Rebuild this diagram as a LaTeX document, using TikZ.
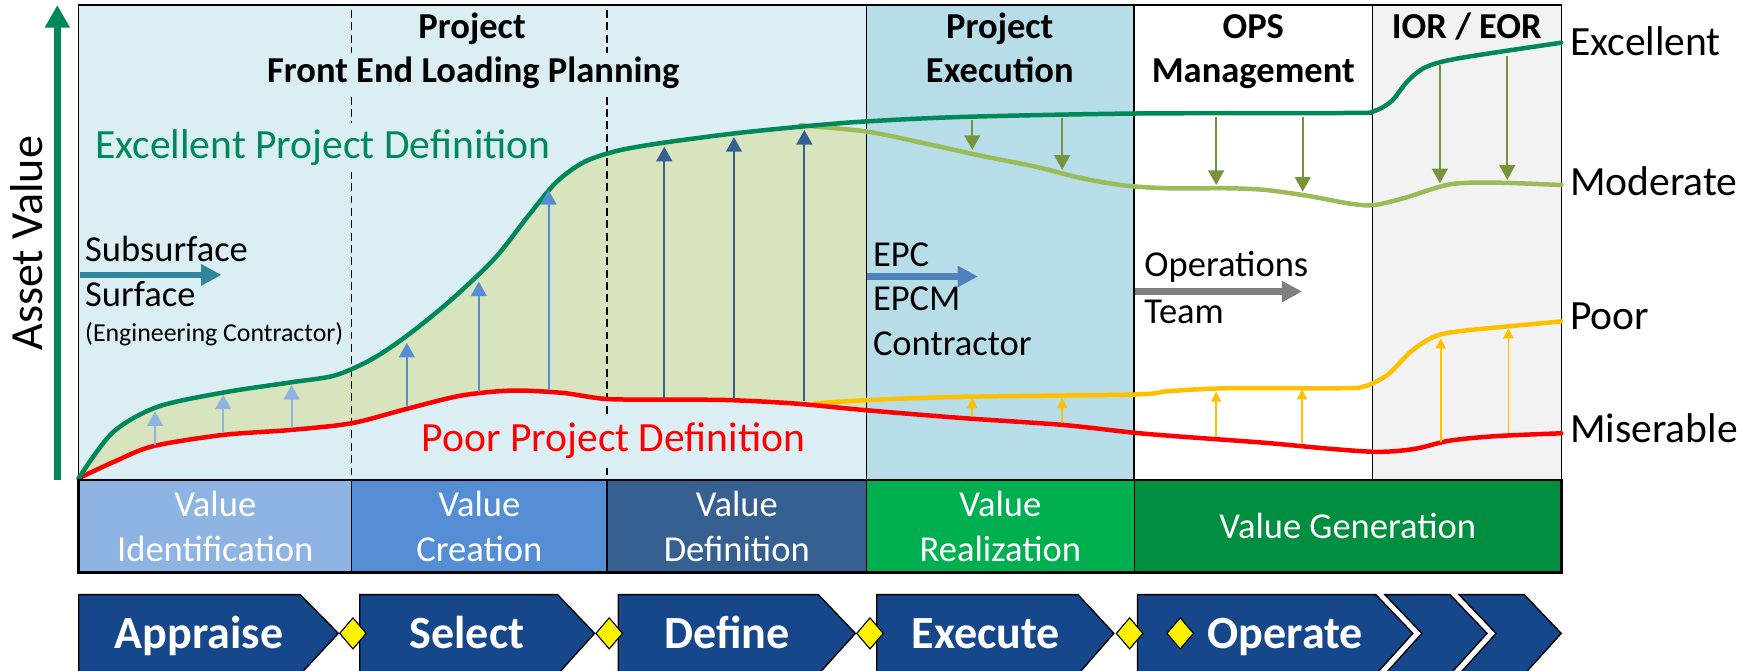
\documentclass[tikz,border=0pt]{standalone}
\usepackage{fontspec}
\setmainfont{Carlito}
\usetikzlibrary{arrows.meta,shapes.geometric}
\definecolor{skyback}{HTML}{DAEEF3}
\definecolor{execback}{HTML}{B7DEE8}
\definecolor{iorback}{HTML}{F2F2F2}
\definecolor{felfill}{HTML}{D7E4BD}
\definecolor{topgreen}{HTML}{00875A}
\definecolor{midgreen}{HTML}{9BBB59}
\definecolor{olive}{HTML}{77933C}
\definecolor{amber}{HTML}{FFC000}
\definecolor{identblue}{HTML}{8EB4E3}
\definecolor{createblue}{HTML}{558ED5}
\definecolor{defineblue}{HTML}{376092}
\definecolor{realgreen}{HTML}{00B050}
\definecolor{gengreen}{HTML}{008E40}
\definecolor{stageblue}{HTML}{17478B}
\definecolor{subteal}{HTML}{31859C}
\definecolor{epcblue}{HTML}{4F81BD}
\definecolor{opsgrey}{HTML}{7F7F7F}

\begin{document}
\begin{tikzpicture}[x=1pt, y=-1pt,
  bigtxt/.style={font=\fontsize{37}{44}\selectfont},
  midtxt/.style={font=\fontsize{32.5}{40}\selectfont},
  hdr/.style={font=\bfseries\fontsize{32.5}{39}\selectfont, anchor=base},
  lbl/.style={inner sep=0pt, anchor=base west},
  cover/.style={fill=skyback, inner sep=6pt},
  trend/.style={line width=4pt, line cap=round},
  lift/.style={line width=1.8pt, -{Triangle[length=13pt,width=14pt]}},
  nudge/.style={line width=1.5pt, -{Triangle[length=9pt,width=9pt]}},
  handover/.style={line width=6pt, -{Triangle[length=18pt,width=18pt]}},
  vbox/.style={draw, line width=1pt, minimum height=82pt, inner sep=0pt, outer sep=0pt,
    text=white, align=center, font=\fontsize{32.5}{40}\selectfont},
  stage/.style={draw, line width=1.2pt, fill=stageblue},
  stagetxt/.style={text=white, font=\bfseries\fontsize{41}{48}\selectfont, anchor=base},
  gem/.style={diamond, draw, line width=1pt, fill=yellow, inner sep=0pt,
    minimum width=24pt, minimum height=28pt},
]
\useasboundingbox (0,0) rectangle (1560.5,596.1);

% phase backgrounds
\fill[skyback] (70,4.5) rectangle (771,427);
\fill[execback] (771,4.5) rectangle (1009,427);
\fill[iorback] (1221,4.5) rectangle (1389,427);

% gap between the two definitions
\begin{scope}
\clip (70,0) rectangle (771,430);
\fill[felfill] plot[smooth] coordinates {(70,425.5) (100,385) (140,362) (200,349) (260,340) (298,334) (330,320) (361,299.5) (400,268) (440,230) (470,192) (495,162) (520,144) (550,134) (590,127) (655,118.5) (715,111.5) (771,117) (820,127)}
  -- plot[smooth] coordinates {(820,369) (771,365) (707,359) (650,356) (600,355.5) (540,355) (500,349.5) (455,347.5) (410,352) (361,364) (313,376.5) (259,382.5) (198,387) (136,397) (102,410.6) (70,425.5)} -- cycle;
\end{scope}

\draw[line width=1.2pt, dash pattern=on 7pt off 4pt] (313,9) -- (313,427);
\draw[line width=1.2pt, dash pattern=on 7pt off 4pt] (540,9) -- (540,427);

% headers
\node[hdr] (felA) at (420,34) {Project};
\node[hdr, fill=skyback] (felB) at (421,73) {Front End Loading Planning};
\node[hdr] (execA) at (889.5,34) {Project};
\node[hdr] (execB) at (889.5,73) {Execution};
\node[hdr] (opsA) at (1115,34) {OPS};
\node[hdr] (opsB) at (1115,73) {Management};
\node[hdr] (iorA) at (1305,34) {IOR / EOR};

\node[bigtxt, cover, anchor=base west, text=topgreen] (goodDef) at (78.5,141) {Excellent Project Definition};
\node[bigtxt, cover, anchor=base west, text=red] (poorDef) at (369,402) {Poor Project Definition};

\draw[line width=1.2pt] (771,4.5) -- (771,427);
\draw[line width=1.2pt] (1009,4.5) -- (1009,427);
\draw[line width=1.2pt] (1221,4.5) -- (1221,427);
\draw[line width=1.3pt] (70,4.5) rectangle (1389,427);

% value curves
\draw[trend, midgreen] plot[smooth] coordinates {(712,111.5) (771,117) (820,127) (870,138) (920,148) (960,158) (1000,165) (1040,167.5) (1092,167.5) (1126,169) (1165,174.5) (1200,181) (1222,182.5) (1250,176) (1290,164) (1331,162.5) (1389,164.6)};
\draw[trend, amber] plot[smooth] coordinates {(725,359) (771,356) (857,353) (1009,351) (1040,348) (1092,345.4) (1194,345.4) (1215,343.5) (1235,333) (1255,313) (1275,300) (1300,294.5) (1389,286)};
\draw[trend, red] plot[smooth] coordinates {(70,425.5) (102,410.6) (136,397) (198,387) (259,382.5) (313,376.5) (361,364) (410,352) (455,347.5) (500,349.5) (540,355) (600,355.5) (650,356) (707,359) (771,365) (857,372) (945,378) (1009,385) (1050,388.4) (1126,394) (1180,399) (1225,402) (1258,399.5) (1290,392) (1331,388) (1389,385.5)};
\draw[trend, topgreen] plot[smooth] coordinates {(70,425.5) (100,385) (140,362) (200,349) (260,340) (298,334) (330,320) (361,299.5) (400,268) (440,230) (470,192) (495,162) (520,144) (550,134) (590,127) (655,118.5) (720,112) (771,108) (857,104) (1009,101) (1200,100.5) (1222,99) (1238,90) (1252,72.5) (1268,60) (1297,52) (1389,38)};

% lifts and drops
\foreach \n/\x/\a/\b in {1/138/396/366, 2/198.6/385.5/351, 3/259.5/379.5/342.5}
  {\coordinate (idlo\n) at (\x,\a); \coordinate (idhi\n) at (\x,\b);
   \draw[lift, identblue] (idlo\n) -- (idhi\n);}
\foreach \n/\x/\a/\b in {1/362/362/305, 2/426/349/250.5, 3/488/347/169}
  {\coordinate (crlo\n) at (\x,\a); \coordinate (crhi\n) at (\x,\b);
   \draw[lift, createblue] (crlo\n) -- (crhi\n);}
\foreach \n/\x/\a/\b in {1/591/354/130.5, 2/653/355/122, 3/715.6/357/115.6}
  {\coordinate (dflo\n) at (\x,\a); \coordinate (dfhi\n) at (\x,\b);
   \draw[lift, defineblue] (dflo\n) -- (dfhi\n);}
\foreach \n/\x/\a/\b in {1/865/107/133.4, 2/945/105/151, 3/1082/104.4/164.6, 4/1159/104.4/170.5, 5/1281/57.8/163, 6/1341/49.8/160}
  {\coordinate (dphi\n) at (\x,\a); \coordinate (dplo\n) at (\x,\b);
   \draw[lift, olive] (dphi\n) -- (dplo\n);}
\foreach \n/\x/\a/\b in {1/865/370.6/354, 2/945/376.5/354, 3/1082/388.4/348.4, 4/1158.4/394/346.3, 5/1281.8/393/301, 6/1342/385.5/292}
  {\coordinate (uplo\n) at (\x,\a); \coordinate (uphi\n) at (\x,\b);
   \draw[nudge, amber] (uplo\n) -- (uphi\n);}

% who carries the asset
\coordinate (subA) at (71,244.6);
\coordinate (subB) at (197,244.6);
\draw[handover, subteal] (subA) -- (subB);
\node[midtxt, lbl] (subsurf) at (75.6,233) {Subsurface};
\node[midtxt, lbl] (surf) at (75.6,273) {Surface};
\node[lbl, font=\fontsize{23}{28}\selectfont] (engcon) at (75.6,304) {(Engineering Contractor)};

\coordinate (epcA) at (771,246);
\coordinate (epcB) at (870,246);
\draw[handover, epcblue] (epcA) -- (epcB);
\node[midtxt, lbl] (epc) at (776.5,237) {EPC};
\node[midtxt, lbl] (epcm) at (776.5,276) {EPCM};
\node[midtxt, lbl] (contr) at (776.5,316) {Contractor};

\coordinate (opsTeamA) at (1010,259.4);
\coordinate (opsTeamB) at (1158.4,259.4);
\draw[handover, opsgrey] (opsTeamA) -- (opsTeamB);
\node[midtxt, lbl] (oper) at (1018,246) {Operations};
\node[midtxt, lbl] (team) at (1018,287.6) {Team};

% outcome labels
\node[bigtxt, lbl] (lblExc) at (1396.6,49) {Excellent};
\node[bigtxt, lbl] (lblMod) at (1396.6,173.5) {Moderate};
\node[bigtxt, lbl] (lblPoor) at (1396.6,293.5) {Poor};
\node[bigtxt, lbl] (lblMis) at (1396.6,393.8) {Miserable};

% asset value axis
\coordinate (axisFoot) at (51,427);
\coordinate (axisTop) at (51,4.5);
\draw[topgreen, line width=6.5pt, -{Triangle[length=20pt,width=21pt]}] (axisFoot) -- (axisTop);
\node[rotate=90, anchor=base, inner sep=0pt, font=\fontsize{41}{48}\selectfont] (axisLbl) at (38,216.5) {Asset Value};

% value bar
\node[vbox, fill=identblue, minimum width=243pt] (vIdent) at (191.5,468) {Value\\Identification};
\node[vbox, fill=createblue, minimum width=227pt] (vCreate) at (426.5,468) {Value\\Creation};
\node[vbox, fill=defineblue, minimum width=231pt] (vDefine) at (655.5,468) {Value\\Definition};
\node[vbox, fill=realgreen, minimum width=238pt] (vReal) at (890,468) {Value\\Realization};
\node[vbox, fill=gengreen, minimum width=380pt] (vGen) at (1199,468) {Value Generation};
\draw[line width=2.5pt] (vIdent.north west) rectangle (vGen.south east);

% stage gates
\draw[stage] (70,529) -- (267,529) -- (301,563.5) -- (267,600) -- (70,600) -- cycle;
\draw[stage] (320,529) -- (496,529) -- (529,563.5) -- (496,600) -- (320,600) -- cycle;
\draw[stage] (550,529) -- (728,529) -- (761,563.5) -- (728,600) -- (550,600) -- cycle;
\draw[stage] (780,529) -- (959,529) -- (991,563.5) -- (959,600) -- (780,600) -- cycle;
\draw[stage] (1012,529) -- (1224,529) -- (1257,563.5) -- (1224,600) -- (1012,600) -- cycle;
\draw[stage] (1232,529) -- (1290,529) -- (1323,563.5) -- (1290,600) -- (1232,600) -- (1265,563.5) -- cycle;
\draw[stage] (1298,529) -- (1356,529) -- (1389,563.5) -- (1356,600) -- (1298,600) -- (1331,563.5) -- cycle;

\node[stagetxt] (appraise) at (177,577) {Appraise};
\node[stagetxt] (select) at (415.5,577) {Select};
\node[stagetxt] (define) at (647,577) {Define};
\node[stagetxt] (execute) at (877,577) {Execute};
\node[stagetxt] (operate) at (1143.6,577) {Operate};

\node[gem] (gate1) at (314,563.5) {};
\node[gem] (gate2) at (542,563.5) {};
\node[gem] (gate3) at (774,563.5) {};
\node[gem] (gate4) at (1005,563.5) {};
\node[gem] (gate5) at (1050,563.5) {};

\end{tikzpicture}
\end{document}
